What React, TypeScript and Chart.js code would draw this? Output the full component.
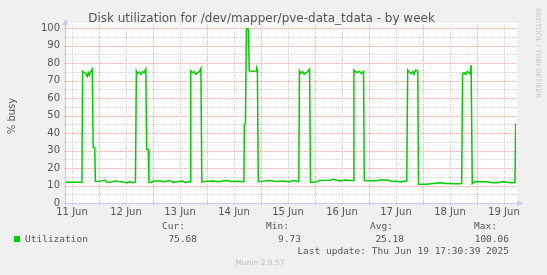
import React, { useEffect, useRef } from "react";
import { Chart, registerables } from "chart.js";

Chart.register(...registerables);

// Hours since 11 Jun 00:00
const HOURS = [
  -2.7, 4.0, 4.4, 4.7, 5.0, 5.8, 6.8, 7.2, 7.7, 8.3, 9.0, 9.4, 10.1, 10.4,
  13.0, 14.7, 15.5, 17.0, 19.0, 21.0, 23.0, 24.5, 25.5, 27.0, 28.2,
  28.6, 29.0, 29.8, 30.6, 31.3, 32.0, 32.8, 33.2, 33.9, 34.2,
  35.5, 36.5, 39.5, 41.0, 43.5, 45.0, 47.0, 49.0, 50.5, 51.5, 52.5,
  52.8, 53.5, 54.3, 55.0, 55.8, 56.6, 57.3, 57.7,
  60.0, 63.0, 65.0, 68.5, 71.0, 74.0, 76.4,
  76.6, 77.1, 77.5, 77.9, 78.4, 78.8, 80.0, 81.8, 82.1, 82.4, 82.8,
  85.0, 88.0, 91.0, 94.0, 96.5, 98.5, 100.8,
  101.1, 101.6, 102.4, 103.2, 104.0, 104.8, 105.6, 106.0,
  108.0, 110.0, 114.7, 116.1, 119.1, 121.3, 124.3, 124.9,
  125.3, 126.5, 127.8, 128.6, 129.6, 129.9,
  132.0, 135.4, 137.0, 139.9, 142.0, 144.3, 146.0, 148.8,
  149.2, 149.6, 150.6, 151.5, 152.0, 152.8, 153.7, 154.0,
  157.6, 160.6, 163.6, 166.0, 168.0, 170.0, 172.4, 173.2,
  173.6, 174.3, 175.0, 175.7, 176.3, 176.9, 177.4, 177.9,
  179.1, 182.0, 184.3, 187.2, 189.0, 191.7, 194.0, 196.1, 196.9, 197.2,
];

const UTIL = [
  11.8, 11.8, 12.2, 75.2, 74.8, 74.5, 72.2, 74.5, 73.0, 75.0, 76.5, 31.8, 31.5, 12.3,
  12.5, 13.1, 12.0, 11.8, 12.5, 12.3, 11.8, 11.4, 12.2, 11.6, 11.9,
  75.2, 74.0, 74.8, 73.5, 75.0, 74.5, 76.5, 30.8, 30.5, 11.9,
  11.9, 12.6, 12.6, 12.2, 12.8, 11.8, 12.2, 12.5, 11.6, 12.2, 12.0,
  75.5, 74.5, 75.0, 73.5, 74.5, 75.0, 77.0, 12.0,
  12.4, 12.6, 12.2, 12.8, 12.3, 12.4, 12.2,
  45.0, 45.5, 99.0, 100.06, 99.0, 75.5, 75.3, 75.5, 77.0, 76.0, 12.2,
  12.5, 12.8, 12.3, 12.6, 12.2, 12.8, 12.2,
  75.5, 74.0, 75.0, 73.5, 74.5, 75.0, 76.5, 11.8,
  11.8, 12.9, 13.0, 13.5, 12.6, 13.1, 12.8, 12.8,
  76.0, 74.5, 75.2, 73.9, 75.2, 12.8,
  12.7, 12.7, 13.1, 13.1, 12.4, 12.4, 12.0, 12.7,
  76.0, 75.2, 73.9, 75.2, 73.5, 76.0, 75.5, 10.7,
  10.7, 11.2, 11.6, 11.2, 11.2, 11.0, 11.0, 11.2,
  73.9, 74.5, 73.5, 75.2, 74.5, 74.0, 78.8, 11.0,
  12.2, 12.2, 12.2, 11.6, 11.6, 12.2, 11.7, 11.6, 11.8, 45.5,
];

const Y_MIN = 0;
const Y_MAX = 100;
const X_MIN = -2.67;
const X_MAX = 197.35;
const X_TICK_HOURS = [0, 12, 24, 36, 48, 60, 72, 84, 96, 108, 120, 132, 144, 156, 168, 180, 192];
const X_LABELS = ["11 Jun", "12 Jun", "13 Jun", "14 Jun", "15 Jun", "16 Jun", "17 Jun", "18 Jun", "19 Jun"];

const TITLE = "Disk utilization for /dev/mapper/pve-data_tdata - by week";
const Y_TITLE = "% busy";
const SERIES_NAME = "Utilization";
const STAT_NAMES = ["Cur:", "Min:", "Avg:", "Max:"];
const STAT_VALUES = ["75.68", "9.73", "25.18", "100.06"];
const LAST_UPDATE = "Last update: Thu Jun 19 17:30:39 2025";
const FOOTER = "Munin 2.0.57";
const WATERMARK = "RRDTOOL / TOBI OETIKER";

const LINE_COLOR = "#00CC00";
const TEXT_COLOR = "#555555";
const MONO = "'DejaVu Sans Mono', monospace";
const SANS = "'DejaVu Sans', sans-serif";
const MAJOR_GRID = "rgba(235,150,150,0.75)";
const MINOR_GRID = "rgba(200,200,200,0.8)";

const muninPlugin = {
  id: "munin",
  beforeDraw(chart: any) {
    const { ctx, chartArea: ca, width, height } = chart;
    ctx.save();
    ctx.fillStyle = "#F0F0F0";
    ctx.fillRect(0, 0, width, height);
    ctx.fillStyle = "#FFFFFF";
    ctx.fillRect(ca.left, ca.top - 5, ca.right - ca.left + 1, ca.bottom - ca.top + 5);
    ctx.restore();
  },
  beforeDatasetsDraw(chart: any) {
    const { ctx, chartArea: ca, scales } = chart;
    const xs = scales.x;
    const ys = scales.y;
    ctx.save();
    ctx.lineWidth = 1;
    ctx.setLineDash([1, 1]);
    for (let v = 5; v <= 100; v += 5) {
      const y = Math.round(ys.getPixelForValue(v)) + 0.5;
      ctx.strokeStyle = v % 10 === 0 ? MAJOR_GRID : MINOR_GRID;
      ctx.beginPath();
      ctx.moveTo(ca.left - 2, y);
      ctx.lineTo(ca.right + 1, y);
      ctx.stroke();
    }
    X_TICK_HOURS.forEach((h) => {
      const x = Math.round(xs.getPixelForValue(h)) + 0.5;
      ctx.strokeStyle = h % 24 === 12 ? MAJOR_GRID : MINOR_GRID;
      ctx.beginPath();
      ctx.moveTo(x, ca.top - 4);
      ctx.lineTo(x, ca.bottom + 2);
      ctx.stroke();
    });
    ctx.restore();
  },
  afterDatasetsDraw(chart: any) {
    const { ctx, chartArea: ca, width } = chart;
    ctx.save();
    ctx.strokeStyle = "#C8C8F0";
    ctx.fillStyle = "#C8C8F0";
    ctx.lineWidth = 1;
    const ax = Math.round(ca.left) - 0.5;
    const ay = Math.round(ca.bottom) + 0.5;
    ctx.beginPath();
    ctx.moveTo(ax, ay + 2);
    ctx.lineTo(ax, ca.top - 4);
    ctx.moveTo(ax - 2, ay);
    ctx.lineTo(ca.right + 2, ay);
    ctx.stroke();
    ctx.beginPath();
    ctx.moveTo(ax - 3, ca.top - 3);
    ctx.lineTo(ax, ca.top - 9);
    ctx.lineTo(ax + 3, ca.top - 3);
    ctx.closePath();
    ctx.fill();
    ctx.beginPath();
    ctx.moveTo(ca.right + 1, ay - 3);
    ctx.lineTo(ca.right + 7, ay);
    ctx.lineTo(ca.right + 1, ay + 3);
    ctx.closePath();
    ctx.fill();

    ctx.fillStyle = TEXT_COLOR;
    ctx.font = `12px ${SANS}`;
    ctx.textAlign = "center";
    ctx.textBaseline = "middle";
    ctx.fillText(TITLE, 261.5, 19);

    ctx.save();
    ctx.translate(12, 116);
    ctx.rotate(-Math.PI / 2);
    ctx.font = `10px ${SANS}`;
    ctx.fillText(Y_TITLE, 0, 0);
    ctx.restore();

    ctx.save();
    ctx.translate(width - 9, 53);
    ctx.rotate(Math.PI / 2);
    ctx.fillStyle = "#C8C8C8";
    ctx.font = `7px ${SANS}`;
    ctx.fillText(WATERMARK, 0, 0);
    ctx.restore();

    ctx.font = `9.5px ${MONO}`;
    ctx.textBaseline = "middle";
    ctx.fillStyle = LINE_COLOR;
    ctx.fillRect(14, 236, 6, 6);
    ctx.fillStyle = TEXT_COLOR;
    ctx.textAlign = "left";
    ctx.fillText(SERIES_NAME, 25, 239.5);
    const nameRight = [185, 289, 393, 497];
    const valRight = [197, 301, 404, 509];
    ctx.textAlign = "right";
    STAT_NAMES.forEach((n, i) => ctx.fillText(n, nameRight[i], 227));
    STAT_VALUES.forEach((v, i) => ctx.fillText(v, valRight[i], 239.5));
    ctx.fillText(LAST_UPDATE, 509, 252);
    ctx.textAlign = "center";
    ctx.fillStyle = "#BBBBBB";
    ctx.font = `7.5px ${SANS}`;
    ctx.fillText(FOOTER, 260, 263.5);
    ctx.restore();
  },
};

export default function App() {
  const ref = useRef<HTMLCanvasElement | null>(null);
  useEffect(() => {
    if (!ref.current) return;
    const chart = new Chart(ref.current, {
      type: "line",
      data: {
        datasets: [
          {
            label: SERIES_NAME,
            data: HOURS.map((h, i) => ({ x: h, y: UTIL[i] })),
            borderColor: LINE_COLOR,
            borderWidth: 1.5,
            pointRadius: 0,
            tension: 0,
            fill: false,
          },
        ],
      },
      options: {
        animation: false,
        responsive: false,
        devicePixelRatio: 1,
        layout: { padding: { top: 28, right: 31, left: 0, bottom: 50 } },
        plugins: { legend: { display: false }, tooltip: { enabled: false }, title: { display: false } },
        scales: {
          x: {
            type: "linear",
            min: X_MIN,
            max: X_MAX,
            grid: { display: false, drawTicks: false },
            border: { display: false },
            afterBuildTicks: (scale: any) => {
              scale.ticks = X_TICK_HOURS.filter((h) => h % 24 === 0).map((h) => ({ value: h }));
            },
            afterFit: (scale: any) => {
              scale.height = 22;
            },
            ticks: {
              autoSkip: false,
              maxRotation: 0,
              padding: 3,
              color: TEXT_COLOR,
              font: { family: SANS, size: 10 },
              callback: (v: any) => X_LABELS[Math.round(Number(v) / 24)] ?? "",
            },
          },
          y: {
            min: Y_MIN,
            max: Y_MAX,
            grid: { display: false, drawTicks: false },
            border: { display: false },
            afterFit: (scale: any) => {
              scale.width = 66;
            },
            ticks: {
              stepSize: 10,
              padding: 6,
              color: TEXT_COLOR,
              font: { family: SANS, size: 10 },
            },
          },
        },
      },
      plugins: [muninPlugin],
    });
    return () => chart.destroy();
  }, []);
  return (
    <div style={{ position: "fixed", left: 0, top: 0, width: 547, height: 275, background: "#F0F0F0" }}>
      <canvas ref={ref} width={547} height={275} style={{ width: 547, height: 275, display: "block" }} />
    </div>
  );
}
